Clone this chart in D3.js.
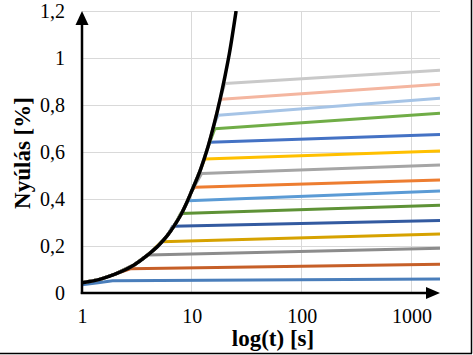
<!DOCTYPE html>
<html><head><meta charset="utf-8">
<script src="https://cdn.jsdelivr.net/npm/d3@7"></script>
<style>html,body{margin:0;padding:0;background:#fff;}svg{display:block;}</style>
</head><body>
<svg id="c" width="473" height="355"></svg>
<script>
// ---- data ----
const yTicks = [0, 0.2, 0.4, 0.6, 0.8, 1, 1.2];
const xTicks = [1, 10, 100, 1000];
const tEnd = 1820;
// black envelope curve
const curveT = [1, 1.5, 2, 3, 4, 5, 6, 7, 8, 9, 10, 12, 14, 16, 18, 20, 22, 25.3];
const curveV = [0.043, 0.060, 0.080, 0.120, 0.163, 0.203, 0.245, 0.290, 0.335, 0.385, 0.435, 0.525, 0.620, 0.720, 0.820, 0.920, 1.02, 1.2];
// creep series (bottom to top)
const branchT = [1.9, 2.75, 4.0, 5.3, 6.7, 7.9, 9.25, 10.6, 12.3, 13.1, 14.6, 16.2, 17.4, 18.6, 20.0];
const startV = [0.052, 0.103, 0.162, 0.218, 0.284, 0.338, 0.393, 0.450, 0.509, 0.570, 0.641, 0.699, 0.756, 0.824, 0.892];
const endV   = [0.060, 0.122, 0.190, 0.251, 0.309, 0.373, 0.434, 0.481, 0.545, 0.604, 0.675, 0.765, 0.829, 0.888, 0.948];
const colors = ["#4A7EBB", "#C65F28", "#8C8C8C", "#D6A200", "#335AA0", "#5E9236", "#5B9BD5", "#ED7D31",
                "#A5A5A5", "#FFC000", "#4472C4", "#70AD47", "#A6C4E6", "#F4B6A0", "#C9C9C9"];
const xTitle = "log(t) [s]";
const yTitle = "Nyúlás [%]";

// ---- layout ----
const L = 82, R = 440, T = 11, B = 293;
const svg = d3.select("#c");
const x = d3.scaleLog().domain([1, tEnd]).range([L, R]);
const y = d3.scaleLinear().domain([0, 1.2]).range([B, T]);

svg.append("defs").append("clipPath").attr("id", "clip")
  .append("rect").attr("x", L).attr("y", T).attr("width", R - L).attr("height", B - T);

// grid
svg.append("g").selectAll("line").data(yTicks.filter(d => d > 0)).join("line")
  .attr("x1", L).attr("x2", R).attr("y1", d => y(d)).attr("y2", d => y(d))
  .attr("stroke", "#D9D9D9").attr("stroke-width", 1).attr("shape-rendering", "crispEdges");
svg.append("g").selectAll("line").data(xTicks.filter(d => d > 1)).join("line")
  .attr("x1", d => x(d)).attr("x2", d => x(d)).attr("y1", T).attr("y2", B)
  .attr("stroke", "#D9D9D9").attr("stroke-width", 1).attr("shape-rendering", "crispEdges");

// series
const line = d3.line().x(d => x(d[0])).y(d => y(d[1])).curve(d3.curveMonotoneX);
const series = branchT.map((bt, i) => {
  let pts;
  if (i === 0) {
    pts = [[1, 0.035], [1.4, 0.044], [bt, startV[i]]];
  } else {
    pts = curveT.map((t, j) => [t, curveV[j]]).filter(p => p[0] < bt - 0.3);
    pts.push([bt, startV[i]]);
  }
  pts.push([tEnd, endV[i]]);
  return pts;
});
const gS = svg.append("g").attr("clip-path", "url(#clip)");
gS.selectAll("path").data(series).join("path")
  .attr("d", d => d3.line().x(p => x(p[0])).y(p => y(p[1]))(d))
  .attr("fill", "none").attr("stroke", (d, i) => colors[i]).attr("stroke-width", 3)
  .attr("stroke-linejoin", "round");

// black envelope
gS.append("path").datum(curveT.map((t, j) => [t, curveV[j]]))
  .attr("d", line).attr("fill", "none").attr("stroke", "#000").attr("stroke-width", 3.5);

// axes labels
const yAxis = d3.axisLeft(y).tickValues(yTicks).tickSize(0).tickPadding(17)
  .tickFormat(d => String(d).replace(".", ","));
const gy = svg.append("g").attr("transform", `translate(${L},0)`).call(yAxis);
const xAxis = d3.axisBottom(x).tickValues(xTicks).tickSize(0).tickPadding(16)
  .tickFormat(d3.format("d"));
const gx = svg.append("g").attr("transform", `translate(0,${B})`).call(xAxis);
[gy, gx].forEach(g => {
  g.select(".domain").remove();
  g.selectAll("text").attr("font-family", "'Liberation Serif', 'Times New Roman', serif")
    .attr("font-size", 20).attr("fill", "#000");
});

// axis lines with arrows
svg.append("line").attr("x1", L).attr("x2", L).attr("y1", B + 1).attr("y2", T + 12)
  .attr("stroke", "#000").attr("stroke-width", 2.5);
svg.append("path").attr("d", `M${L},${T} L${L - 6.5},${T + 14} L${L + 6.5},${T + 14} Z`).attr("fill", "#000");
svg.append("line").attr("x1", L - 1.2).attr("x2", R - 12).attr("y1", B).attr("y2", B)
  .attr("stroke", "#000").attr("stroke-width", 2.5);
svg.append("path").attr("d", `M${R},${B} L${R - 14},${B - 6} L${R - 14},${B + 6} Z`).attr("fill", "#000");

// titles
svg.append("text").attr("x", 273).attr("y", 346).attr("text-anchor", "middle")
  .attr("font-family", "'Liberation Serif', 'Times New Roman', serif").attr("font-weight", "bold")
  .attr("font-size", 23).text(xTitle);
svg.append("text").attr("transform", "translate(30,153) rotate(-90)").attr("text-anchor", "middle")
  .attr("font-family", "'Liberation Serif', 'Times New Roman', serif").attr("font-weight", "bold")
  .attr("font-size", 23).text(yTitle);

// border (right and bottom visible)
svg.append("line").attr("x1", 471.5).attr("x2", 471.5).attr("y1", 0).attr("y2", 353.5)
  .attr("stroke", "#000").attr("stroke-width", 1.5);
svg.append("line").attr("x1", 0).attr("x2", 472).attr("y1", 353.5).attr("y2", 353.5)
  .attr("stroke", "#000").attr("stroke-width", 1.5);
</script>
</body></html>
